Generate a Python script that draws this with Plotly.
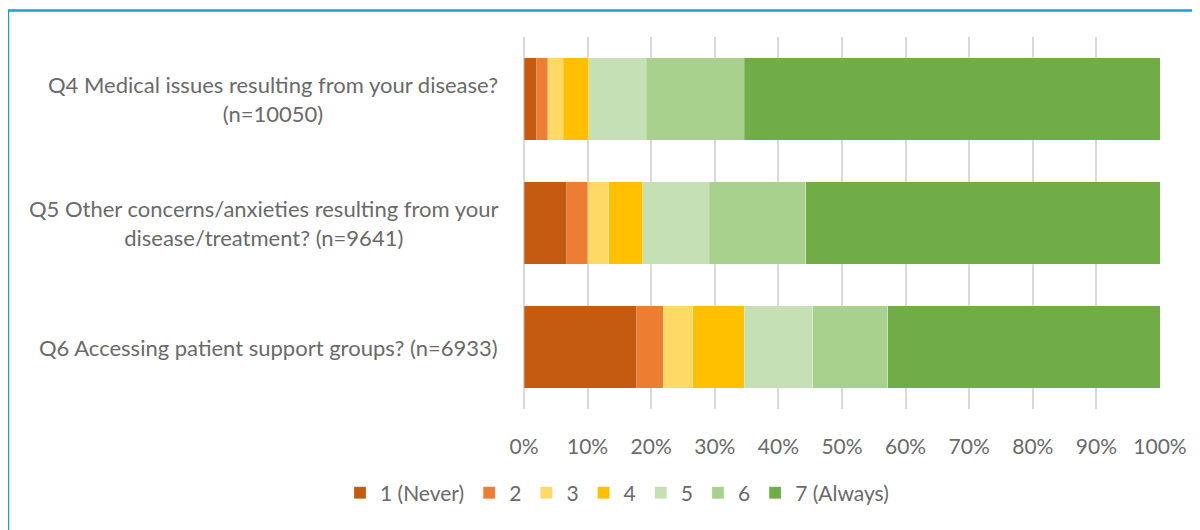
import plotly.graph_objects as go

categories = ["Q4", "Q5", "Q6"]
category_labels = [
    "Q4 Medical issues resulting from your disease?<br>(n=10050)",
    "Q5 Other concerns/anxieties resulting from your<br>disease/treatment? (n=9641)",
    "Q6 Accessing patient support groups? (n=6933)",
]
series_names = ["1 (Never)", "2", "3", "4", "5", "6", "7 (Always)"]
s1 = [2.0, 6.7, 17.7]
s2 = [1.7, 3.3, 4.2]
s3 = [2.5, 3.3, 4.6]
s4 = [4.0, 5.4, 8.1]
s5 = [9.0, 10.4, 10.8]
s6 = [15.4, 15.2, 11.8]
s7 = [65.4, 55.7, 42.8]
series_values = [s1, s2, s3, s4, s5, s6, s7]
colors = ["#c55a11", "#ed7d31", "#ffd966", "#ffc000", "#c5e0b4", "#a9d18e", "#70ad47"]
tick_vals = [0, 10, 20, 30, 40, 50, 60, 70, 80, 90, 100]
tick_text = ["0%", "10%", "20%", "30%", "40%", "50%", "60%", "70%", "80%", "90%", "100%"]

FONT = "Lato"
TXT = "#6a6a6a"
OFF = 8  # page body margin
W, H = 1192, 522
ML, MR, MT, MB = 516, 40, 29, 121

fig = go.Figure()
for name, vals, col in zip(series_names, series_values, colors):
    fig.add_trace(go.Bar(
        y=categories, x=vals, name=name, orientation="h",
        marker=dict(color=col, line=dict(color="rgba(255,255,255,0.35)", width=0.6)),
    ))

pw = W - ML - MR
ph = H - MT - MB

annotations = []
for c, lab in zip(categories, category_labels):
    annotations.append(dict(
        x=(500 - OFF - ML) / pw, xref="paper", y=c, yref="y", text=lab,
        showarrow=False, xanchor="right", yanchor="middle", align="center",
        font=dict(family=FONT, size=22, color=TXT),
    ))

bx = (8 - OFF - ML) / pw
by = (H - MB - (10.5 - OFF)) / ph
shapes = [
    dict(type="line", xref="paper", yref="paper", x0=bx, x1=bx, y0=-1, y1=by,
         line=dict(color="#1a9fdb", width=2.5)),
    dict(type="line", xref="paper", yref="paper", x0=bx, x1=2, y0=by, y1=by,
         line=dict(color="#1a9fdb", width=2.5)),
]

fig.update_layout(
    barmode="stack",
    bargap=0.335,
    width=W, height=H,
    margin=dict(l=ML, r=MR, t=MT, b=MB, pad=0),
    paper_bgcolor="white", plot_bgcolor="white",
    font=dict(family=FONT, size=21, color=TXT),
    xaxis=dict(
        range=[0, 100], tickmode="array", tickvals=tick_vals, ticktext=tick_text,
        showgrid=True, gridcolor="#d9d9d9", gridwidth=1.5,
        zeroline=True, zerolinecolor="#d9d9d9", zerolinewidth=1.5,
        ticks="outside", ticklen=19, tickcolor="rgba(0,0,0,0)",
        tickfont=dict(family=FONT, size=21, color=TXT),
        showline=False, fixedrange=True,
    ),
    yaxis=dict(
        autorange="reversed", showticklabels=False, showgrid=False,
        zeroline=False, showline=False,
    ),
    legend=dict(
        orientation="h", x=(617 - OFF - ML) / pw, xanchor="center",
        y=-(493 - OFF - (H - MB)) / ph, yanchor="middle",
        font=dict(family=FONT, size=21, color=TXT),
        traceorder="normal", itemclick=False,
    ),
    annotations=annotations,
    shapes=shapes,
    showlegend=True,
)

fig.write_html("out.html")
